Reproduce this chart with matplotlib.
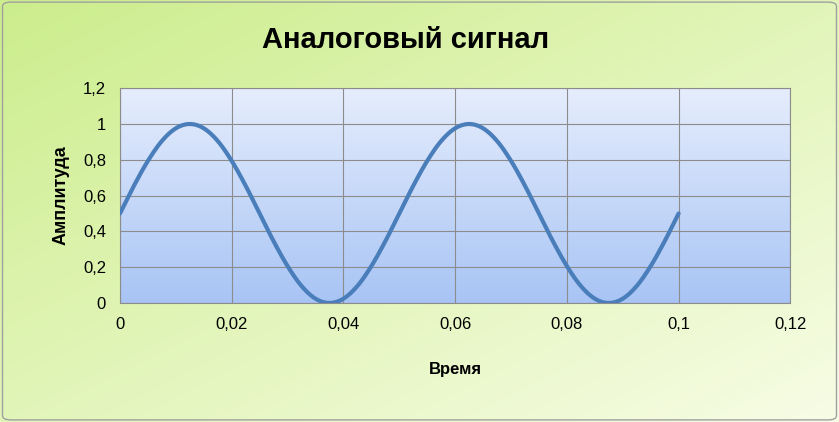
import matplotlib
matplotlib.use("Agg")
import matplotlib.pyplot as plt
import numpy as np
from matplotlib.patches import FancyBboxPatch

t = [i*0.0025 for i in range(41)]
amp = [0.5,0.655,0.794,0.905,0.976,1.0,0.976,0.905,0.794,0.655,
       0.5,0.345,0.206,0.095,0.024,0.0,0.024,0.095,0.206,0.345,
       0.5,0.655,0.794,0.905,0.976,1.0,0.976,0.905,0.794,0.655,
       0.5,0.345,0.206,0.095,0.024,0.0,0.024,0.095,0.206,0.345,0.5]
xticks = [0,0.02,0.04,0.06,0.08,0.1,0.12]
xlabels = ["0","0,02","0,04","0,06","0,08","0,1","0,12"]
yticks = [0,0.2,0.4,0.6,0.8,1.0,1.2]
ylabels = ["0","0,2","0,4","0,6","0,8","1","1,2"]

def catmull(x, y, n=10):
    x = np.asarray(x); y = np.asarray(y)
    px = np.concatenate([[2*x[0]-x[1]], x, [2*x[-1]-x[-2]]])
    py = np.concatenate([[2*y[0]-y[1]], y, [2*y[-1]-y[-2]]])
    ox, oy = [], []
    s = np.linspace(0, 1, n, endpoint=False)
    for i in range(1, len(px)-2):
        for P, out in ((px, ox), (py, oy)):
            p0, p1, p2, p3 = P[i-1], P[i], P[i+1], P[i+2]
            out.extend(0.5*(2*p1 + (-p0+p2)*s + (2*p0-5*p1+4*p2-p3)*s**2 + (-p0+3*p1-3*p2+p3)*s**3))
    ox.append(x[-1]); oy.append(y[-1])
    return ox, oy

plt.rcParams['font.family'] = ['Liberation Sans', 'DejaVu Sans']
fig = plt.figure(figsize=(8.39,4.22), dpi=100)
bg = fig.add_axes([0,0,1,1], zorder=-10)
yy, xx = np.mgrid[0:1:200j, 0:1:200j]
s = (xx*0.5 + yy*0.5)
c1 = np.array([0.80,0.93,0.55]); c2 = np.array([0.97,0.99,0.90])
img = c1[None,None,:]*(1-s[...,None]) + c2[None,None,:]*s[...,None]
bg.imshow(img, extent=[0,1,0,1], aspect='auto', origin='upper')
bg.add_patch(FancyBboxPatch((0.003,0.005),0.994,0.99, boxstyle="round,pad=0,rounding_size=0.01",
             fill=False, ec='#a0a0a0', lw=1, transform=bg.transAxes))
bg.set_xlim(0,1); bg.set_ylim(0,1); bg.axis('off')

ax = fig.add_axes([0.143,0.282,0.799,0.509])
g = np.linspace(0,1,200)[:,None]
top = np.array([0.90,0.93,0.99]); bot = np.array([0.66,0.77,0.96])
grad = top[None,None,:]*(1-g[...,None]) + bot[None,None,:]*g[...,None]
grad = np.repeat(grad, 2, axis=1)
ax.imshow(grad, extent=[0,0.12,0,1.2], aspect='auto', origin='upper', zorder=0)
sx, sy = catmull(t, amp)
ax.plot(sx, sy, color='#4a7ebb', lw=3, zorder=3, solid_capstyle='round')
ax.set_xlim(0,0.12); ax.set_ylim(0,1.2)
ax.set_xticks(xticks); ax.set_xticklabels(xlabels)
ax.set_yticks(yticks); ax.set_yticklabels(ylabels)
ax.grid(True, color='#8c8c8c', lw=0.8, zorder=1)
ax.set_axisbelow(False)
for sp in ax.spines.values(): sp.set_color('#8c8c8c')
ax.tick_params(labelsize=12, length=0, pad=10)
ax.set_xlabel("Время", fontsize=12, fontweight='bold', labelpad=22)
ax.set_ylabel("Амплитуда", fontsize=13, fontweight='bold', labelpad=10)
fig.text(0.483, 0.905, "Аналоговый сигнал", ha='center', va='center', fontsize=21, fontweight='bold')
fig.savefig("out.png", dpi=100)
